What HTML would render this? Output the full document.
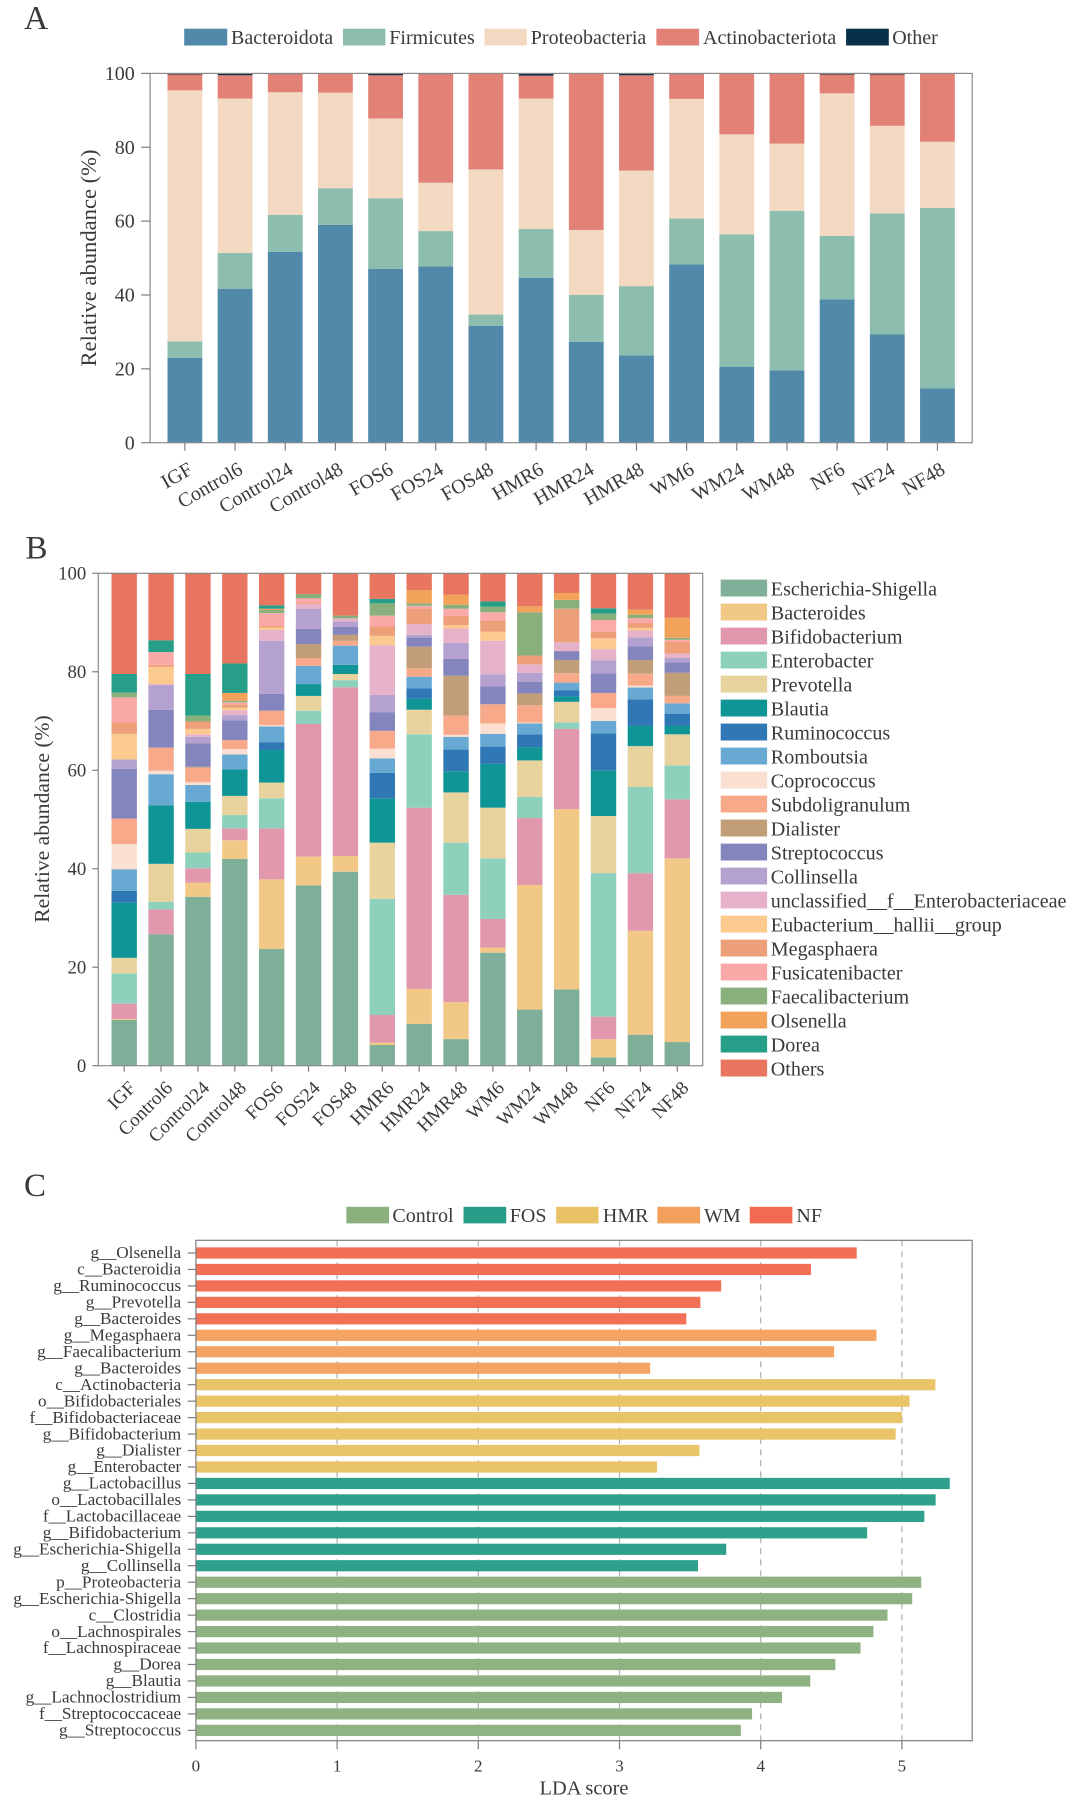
<!DOCTYPE html>
<html lang="en">
<head>
<meta charset="utf-8">
<title>Gut microbiota composition and LDA scores</title>
<style>
html,body{margin:0;padding:0;background:#fff;}
svg{display:block;font-family:"Liberation Serif","DejaVu Serif",serif;fill:#3a3a3a;}
text{fill:#3a3a3a;}
</style>
</head>
<body>
<svg id="fig" xmlns="http://www.w3.org/2000/svg" width="1080" height="1803" viewBox="0 0 1080 1803">
<rect x="0" y="0" width="1080" height="1803" fill="#ffffff"/>

<text x="24" y="29" font-size="33.5">A</text>
<text x="25.5" y="558.7" font-size="33">B</text>
<text x="24" y="1196" font-size="33">C</text>

<g font-size="20">
<g><rect x="184.2" y="28.7" width="43" height="16.8" fill="#5089a9"/><text x="231" y="44">Bacteroidota</text></g>
<g><rect x="343" y="28.7" width="42.4" height="16.8" fill="#8dbdae"/><text x="389.3" y="44">Firmicutes</text></g>
<g><rect x="484.5" y="28.7" width="42.4" height="16.8" fill="#f3d9c1"/><text x="530.8" y="44">Proteobacteria</text></g>
<g><rect x="656.4" y="28.7" width="42.7" height="16.8" fill="#e28276"/><text x="703" y="44">Actinobacteriota</text></g>
<g><rect x="846.1" y="28.7" width="42.7" height="16.8" fill="#073049"/><text x="892.2" y="44">Other</text></g>
</g>

<g font-size="20">
<g><rect x="346.4" y="1206.8" width="42.7" height="16.6" fill="#8bb07e"/><text x="392.4" y="1222">Control</text></g>
<g><rect x="463.5" y="1206.8" width="42.7" height="16.6" fill="#279d87"/><text x="509.8" y="1222">FOS</text></g>
<g><rect x="556.2" y="1206.8" width="42.4" height="16.6" fill="#e8c264"/><text x="602.9" y="1222">HMR</text></g>
<g><rect x="657.4" y="1206.8" width="42.7" height="16.6" fill="#f4a05d"/><text x="704" y="1222">WM</text></g>
<g><rect x="749.7" y="1206.8" width="42.7" height="16.6" fill="#f26b50"/><text x="796.4" y="1222">NF</text></g>
</g>

<text transform="translate(96,258) rotate(-90)" text-anchor="middle" font-size="22.6">Relative abundance (%)</text>
<text transform="translate(49,819) rotate(-90)" text-anchor="middle" font-size="21.6">Relative abundance (%)</text>
<text x="584" y="1794.5" text-anchor="middle" font-size="20.4">LDA score</text>

<g id="chartA"></g>
<g id="chartB"></g>
<g id="legendB"></g>
<g id="chartC"></g>
</svg>

<script>
// Shared sample names
const samples = ["IGF","Control6","Control24","Control48","FOS6","FOS24","FOS48","HMR6","HMR24","HMR48","WM6","WM24","WM48","NF6","NF24","NF48"];
const percentTicks = [0,20,40,60,80,100];

// Panel A: phylum relative abundance (%)
const bacteroidota = [23,41.7,51.7,59,47.1,47.7,31.6,44.6,27.3,23.6,48.3,20.5,19.6,38.8,29.3,14.7];
const firmicutes = [4.4,9.7,10,9.9,19.1,9.6,3.1,13.3,12.7,18.8,12.4,35.9,43.2,17.2,32.8,48.9];
const proteobacteria = [68,41.8,33.2,25.9,21.6,13.1,39.3,35.3,17.6,31.3,32.4,27.1,18.2,38.6,23.7,17.9];
const actinobacteriota = [4.3,6.3,4.9,5.1,11.7,29.4,25.9,6.2,42.3,25.8,6.7,16.4,18.9,5.1,13.9,18.4];
const otherPhyla = [0.3,0.5,0.2,0.1,0.5,0.2,0.1,0.6,0.1,0.5,0.2,0.1,0.1,0.3,0.3,0.1];
const phylumNames = ["Bacteroidota","Firmicutes","Proteobacteria","Actinobacteriota","Other"];
const phylumColors = ["#5089a9","#8dbdae","#f3d9c1","#e28276","#073049"];

// Panel B: genus relative abundance (%)
const escherichia = [9.3,26.7,34.3,42,23.7,36.6,39.4,4.2,8.5,5.4,22.95,11.4,15.5,1.7,6.3,4.8];
const bacteroides = [0.2,0,2.9,3.8,14.15,5.85,3.2,0.5,7.1,7.5,1.05,25.3,36.6,3.7,21.1,37.3];
const bifidobacterium = [3.1,5.05,2.9,2.4,10.35,26.95,34.25,5.6,36.8,21.8,5.8,13.6,16.3,4.55,11.7,12];
const enterobacter = [6.15,1.55,3.2,2.7,6.1,2.7,1.45,23.6,14.9,10.6,12.3,4.3,1.3,29.15,17.5,6.9];
const prevotella = [3.15,7.7,4.8,3.9,3.2,3.0,1.25,11.4,5,10.2,10.3,7.4,4.2,11.6,8.3,6.3];
const blautia = [11.2,11.9,5.5,5.4,6.6,2.4,1.85,9,2.3,4.3,8.9,2.7,1.1,9.3,4.1,1.7];
const ruminococcus = [2.4,0,0,0,1.6,0,0,5.2,2,4.4,3.5,2.6,1.2,7.5,5.4,2.5];
const romboutsia = [4.4,6.3,3.4,3,3.2,3.7,3.9,2.9,2.4,2.6,2.6,2.2,1.6,2.5,2.4,2.1];
const coprococcus = [5.1,0.7,0.55,1.1,0.3,0,0,2,0,0.4,2.1,0.2,0,2.6,0.4,0];
const subdoligranulum = [5.2,4.7,2.95,1.85,2.9,1.6,1.0,3.6,1.7,3.9,3.9,3.5,1.9,3.1,2.4,1.5];
const dialister = [0,0,0.2,0,0,2.85,1.2,0,4.4,8.1,0,2.4,2.7,0,2.8,4.7];
const streptococcus = [10.1,7.7,4.8,3.95,3.4,3.05,1.6,3.8,1.9,3.4,3.6,2.4,1.8,4,2.8,2.1];
const collinsella = [1.9,5.0,1.3,1.1,10.8,4.05,1.1,3.5,0.5,3.3,2.5,1.8,0,2.6,1.8,0.9];
const unclassifiedEntero = [0,0.2,0.5,1.0,2.2,1.05,0.65,10.1,2.2,2.9,6.8,1.7,1.8,2.3,1.4,0.9];
const eubacterium = [5.2,3.5,1.1,0.5,0.5,0,0,1.9,0,0.7,1.85,0,0,2.2,0.5,0];
const megasphaera = [2.3,0.4,1.5,0.7,0.3,0.3,0,1.9,3.2,1.9,2.25,1.8,6.8,1.3,1,2.5];
const fusicatenibacter = [5.1,2.6,0,0.4,2.6,0.8,0,2.2,0.5,1.4,1.7,0,0,2.4,1,0.3];
const faecalibacterium = [1.0,0,1.2,0.3,0.65,0.9,0.55,2.5,0.5,0.8,1.1,8.8,1.8,1.3,0.7,0.4];
const olsenella = [0,0,0,1.6,0.25,0,0,0,2.7,2.1,0,1.2,1.4,0,1,4.1];
const dorea = [3.75,2.4,8.45,6,0.7,0,0,0.9,0,0,1.1,0,0,1.1,0,0];
const otherGenera = [20.45,13.6,20.45,18.3,6.5,4.2,8.6,5.2,3.4,4.3,5.7,6.7,4,7.1,7.4,9];
const genusNames = ["Escherichia-Shigella","Bacteroides","Bifidobacterium","Enterobacter","Prevotella","Blautia","Ruminococcus","Romboutsia","Coprococcus","Subdoligranulum","Dialister","Streptococcus","Collinsella","unclassified__f__Enterobacteriaceae","Eubacterium__hallii__group","Megasphaera","Fusicatenibacter","Faecalibacterium","Olsenella","Dorea","Others"];
const genusColors = ["#7fae99","#f2c887","#e198ac","#8dd0bc","#e8d39f","#0f9596","#2f77b5","#68a9d3","#fbe0d2","#f7a98a","#c29e78","#8585bd","#b5a1cf","#e6b2c9","#fcc98f","#ed9f7a","#fba9a8","#89b07c","#f3a25a","#279e87","#e77560"];

// Panel C: LDA scores
const ldaTaxa = ["g__Olsenella","c__Bacteroidia","g__Ruminococcus","g__Prevotella","g__Bacteroides","g__Megasphaera","g__Faecalibacterium","g__Bacteroides","c__Actinobacteria","o__Bifidobacteriales","f__Bifidobacteriaceae","g__Bifidobacterium","g__Dialister","g__Enterobacter","g__Lactobacillus","o__Lactobacillales","f__Lactobacillaceae","g__Bifidobacterium","g__Escherichia-Shigella","g__Collinsella","p__Proteobacteria","g__Escherichia-Shigella","c__Clostridia","o__Lachnospirales","f__Lachnospiraceae","g__Dorea","g__Blautia","g__Lachnoclostridium","f__Streptococcaceae","g__Streptococcus"];
const ldaScores = [4.68,4.356,3.72,3.573,3.473,4.82,4.52,3.217,5.237,5.054,5.0,4.956,3.566,3.266,5.339,5.239,5.159,4.754,3.756,3.556,5.137,5.073,4.898,4.798,4.707,4.529,4.351,4.151,3.939,3.859];
const ldaGroups = ["NF","NF","NF","NF","NF","WM","WM","WM","HMR","HMR","HMR","HMR","HMR","HMR","FOS","FOS","FOS","FOS","FOS","FOS","Control","Control","Control","Control","Control","Control","Control","Control","Control","Control"];
const groupColors = {Control:"#8bb07e",FOS:"#279d87",HMR:"#e8c264",WM:"#f4a05d",NF:"#f26b50"};
const ldaTicks = [0,1,2,3,4,5];

const NS = "http://www.w3.org/2000/svg";
const AXIS = "#7d7d7d";
function mk(parent, tag) {
  const el = document.createElementNS(NS, tag);
  parent.appendChild(el);
  return el;
}
function slug(s) { return s.toLowerCase().replace(/[^a-z0-9]+/g, "-"); }
function rectAt(el, x, y, w, h, fill) {
  el.setAttribute("x", x); el.setAttribute("y", y);
  el.setAttribute("width", w); el.setAttribute("height", h);
  el.setAttribute("fill", fill);
}
function lineAt(el, x1, y1, x2, y2, stroke, sw) {
  el.setAttribute("x1", x1); el.setAttribute("y1", y1);
  el.setAttribute("x2", x2); el.setAttribute("y2", y2);
  el.setAttribute("stroke", stroke); el.setAttribute("stroke-width", sw);
}

function drawStacked(root, series, names, colors, box, prefix, labelAngle, labelDx, labelY, tickFont, catFont) {
  const yScale = v => box.bottom - (box.bottom - box.top) * v / 100;
  const xScale = i => box.first + box.step * i;
  samples.forEach((s, i) => {
    let cum = 0;
    series.forEach((arr, k) => {
      const v = arr[i];
      if (v <= 0) { cum += v; return; }
      const bar = mk(root, "rect");
      
      
      rectAt(bar, xScale(i) - box.barW / 2, yScale(cum + v), box.barW, yScale(cum) - yScale(cum + v), colors[k]);
      cum += v;
    });
    const tick = mk(root, "line");
    
    
    lineAt(tick, xScale(i), box.bottom, xScale(i), box.bottom + box.tick, AXIS, 1.2);
    const lab = mk(root, "text");
    
    
    lab.setAttribute("transform", "translate(" + (xScale(i) + labelDx) + "," + labelY + ") rotate(" + labelAngle + ")");
    lab.setAttribute("text-anchor", "end");
    lab.setAttribute("font-size", catFont);
    lab.textContent = s;
  });
  percentTicks.forEach(t => {
    const tick = mk(root, "line");
    
    
    lineAt(tick, box.left - box.ytick, yScale(t), box.left, yScale(t), AXIS, 1.2);
    const lab = mk(root, "text");
    
    
    lab.setAttribute("x", box.left - box.ytick - box.ypad);
    lab.setAttribute("y", yScale(t) + tickFont * 0.33);
    lab.setAttribute("text-anchor", "end");
    lab.setAttribute("font-size", tickFont);
    lab.textContent = t;
  });
  const frame = mk(root, "rect");
  
  
  frame.setAttribute("x", box.left); frame.setAttribute("y", box.top);
  frame.setAttribute("width", box.right - box.left); frame.setAttribute("height", box.bottom - box.top);
  frame.setAttribute("fill", "none"); frame.setAttribute("stroke", "#8a8a8a"); frame.setAttribute("stroke-width", 1.2);
}

drawStacked(document.getElementById("chartA"),
  [bacteroidota, firmicutes, proteobacteria, actinobacteriota, otherPhyla],
  phylumNames, phylumColors,
  {left:150.1, right:972.2, top:73.4, bottom:442.7, first:184.9, step:50.17, barW:34.8, tick:8, ytick:8.9, ypad:6.5},
  "phylum", -30, 9, 473, 20, 20);

drawStacked(document.getElementById("chartB"),
  [escherichia, bacteroides, bifidobacterium, enterobacter, prevotella, blautia, ruminococcus, romboutsia, coprococcus, subdoligranulum, dialister, streptococcus, collinsella, unclassifiedEntero, eubacterium, megasphaera, fusicatenibacter, faecalibacterium, olsenella, dorea, otherGenera],
  genusNames, genusColors,
  {left:98.3, right:702.7, top:573.3, bottom:1065.7, first:124.2, step:36.87, barW:25.4, tick:6, ytick:6, ypad:6},
  "genus", -45, 12.5, 1089, 18.8, 19);

// Panel B legend
const legendB = document.getElementById("legendB");
genusNames.forEach((name, i) => {
  const sw = mk(legendB, "rect");
  
  
  rectAt(sw, 720.7, 579.6 + 24.0 * i, 46.4, 16.9, genusColors[i]);
  const t = mk(legendB, "text");
  
  
  t.setAttribute("x", 770.8);
  t.setAttribute("y", 595.3 + 24.0 * i);
  t.setAttribute("font-size", 20.1);
  t.textContent = name;
});

// Panel C
(function () {
  const root = document.getElementById("chartC");
  const box = {left:195.9, right:972.2, top:1240.3, bottom:1740.7};
  const xScale = v => box.left + 141.2 * v;
  const yScale = i => 1253 + 16.46 * i;
  ldaTicks.forEach(t => {
    if (t > 0) {
      const grid = mk(root, "line");
      
      
      lineAt(grid, xScale(t), box.top, xScale(t), box.bottom, "#b4b4b4", 1.3);
      grid.setAttribute("stroke-dasharray", "6 5");
    }
    const tick = mk(root, "line");
    
    
    lineAt(tick, xScale(t), box.bottom, xScale(t), box.bottom + 8.6, AXIS, 1.2);
    const lab = mk(root, "text");
    
    
    lab.setAttribute("x", xScale(t));
    lab.setAttribute("y", 1771.6);
    lab.setAttribute("text-anchor", "middle");
    lab.setAttribute("font-size", 17);
    lab.textContent = t;
  });
  ldaTaxa.forEach((name, i) => {
    const color = groupColors[ldaGroups[i]];
    const bar = mk(root, "rect");
    
    
    rectAt(bar, xScale(0), yScale(i) - 5.6, xScale(ldaScores[i]) - xScale(0), 11.2, color);
    bar.setAttribute("fill-opacity", "0.97");
    const tick = mk(root, "line");
    
    
    lineAt(tick, box.left - 8.2, yScale(i), box.left, yScale(i), AXIS, 1.2);
    const lab = mk(root, "text");
    
    
    lab.setAttribute("x", 181.2);
    lab.setAttribute("y", yScale(i) + 5.2);
    lab.setAttribute("text-anchor", "end");
    lab.setAttribute("font-size", 17.2);
    lab.textContent = name;
  });
  const frame = mk(root, "rect");
  
  
  frame.setAttribute("x", box.left); frame.setAttribute("y", box.top);
  frame.setAttribute("width", box.right - box.left); frame.setAttribute("height", box.bottom - box.top);
  frame.setAttribute("fill", "none"); frame.setAttribute("stroke", "#7d7d7d"); frame.setAttribute("stroke-width", 1.2);
})();
</script>
</body>
</html>
